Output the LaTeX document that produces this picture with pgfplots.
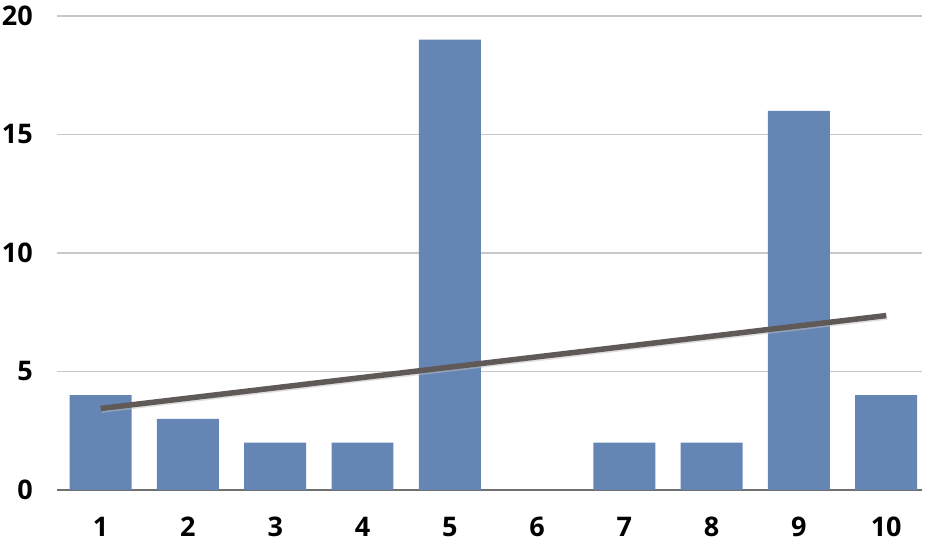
\documentclass[border=0pt]{standalone}
\usepackage{fontspec}
\setmainfont{Open Sans}
\usepackage{pgfplots}
\pgfplotsset{compat=1.18}
\definecolor{barblue}{HTML}{6586B4}
\definecolor{trendgray}{HTML}{5F5A58}
\definecolor{gridgray}{HTML}{C8C8C8}
\definecolor{axisgray}{HTML}{707070}
\begin{document}
\begin{tikzpicture}
\begin{axis}[
  at={(0pt,0pt)}, anchor=south west,
  scale only axis,
  width=865pt, height=474pt,
  xmin=0.5, xmax=10.41,
  ymin=0, ymax=20,
  xtick={1,...,10},
  ytick={5,10,15,20},
  extra y ticks={0},
  extra y tick style={grid style={draw=axisgray, line width=2pt}},
  ymajorgrids,
  grid style={draw=gridgray, line width=1.3pt},
  major tick length=0pt,
  axis line style={draw=none},
  tick label style={font=\fontsize{27}{30}\selectfont\bfseries, inner sep=0pt},
  /pgf/number format/assume math mode=true,
  xticklabel style={yshift=-27pt},
  yticklabel style={xshift=-24pt},
  clip=false,
]
\addplot[ybar, bar width=0.71, fill=barblue, draw=none] coordinates {
  (1,4) (2,3) (3,2) (4,2) (5,19) (6,0) (7,2) (8,2) (9,16) (10,4)
};
\addplot[draw=black!25, line width=5.5pt, opacity=0.5, forget plot, shift={(1pt,-1.5pt)}] coordinates {(1,3.44) (10,7.36)};
\addplot[draw=trendgray, line width=5.5pt] coordinates {(1,3.44) (10,7.36)};
\end{axis}
\pgfresetboundingbox
\useasboundingbox (-57pt,-58pt) rectangle (881pt,490pt);
\end{tikzpicture}
\end{document}
